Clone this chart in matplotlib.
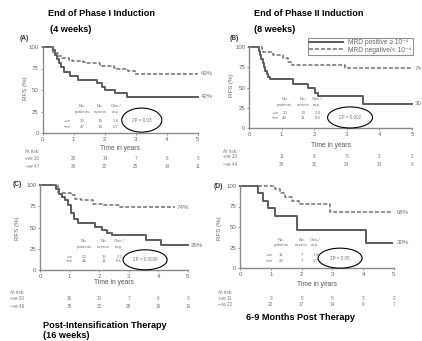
import matplotlib
matplotlib.use("Agg")
import matplotlib.pyplot as plt
from matplotlib.lines import Line2D
from matplotlib.patches import Ellipse
from matplotlib.transforms import blended_transform_factory

plt.rcParams['font.family'] = ['Liberation Sans', 'DejaVu Sans']

W, H = 422, 341

# Kaplan-Meier steps (years, RFS %)
a_pos_t = [0, 0.34, 0.40, 0.46, 0.52, 0.59, 0.67, 0.88, 1.15, 1.74, 1.90, 2.00, 2.33, 2.70, 5.0]
a_pos_s = [100, 96, 91, 86, 81, 77, 71, 66, 62, 58, 54, 50, 46, 42, 42]
a_neg_t = [0, 0.29, 0.34, 0.50, 0.61, 0.85, 0.93, 1.30, 1.36, 1.85, 1.90, 2.28, 2.33, 2.70, 2.76, 2.97, 5.0]
a_neg_s = [100, 97, 93, 90, 87, 85, 84, 82, 81, 79, 78, 76, 75, 73, 72, 69, 69]

b_pos_t = [0, 0.31, 0.34, 0.38, 0.42, 0.46, 0.49, 0.54, 0.59, 0.64, 1.36, 1.82, 2.02, 2.13, 3.50, 5.0]
b_pos_s = [100, 95, 90, 85, 80, 75, 70, 67, 63, 60, 54, 49, 43, 39, 30, 30]
b_neg_t = [0, 0.39, 0.44, 0.75, 1.05, 1.20, 1.31, 2.94, 5.0]
b_neg_s = [100, 97, 94, 90, 86, 82, 78, 74, 74]

c_pos_t = [0, 0.55, 0.65, 0.75, 0.85, 0.95, 1.05, 1.15, 1.28, 1.85, 2.10, 2.25, 2.42, 3.58, 4.08, 5.0]
c_pos_s = [100, 95, 90, 86, 82, 76, 67, 60, 55, 51, 47, 44, 41, 35, 29, 29]
c_neg_t = [0, 0.62, 1.05, 1.18, 1.40, 1.80, 2.08, 2.70, 4.55]
c_neg_s = [100, 91, 88, 84, 82, 78, 76, 74, 74]

d_pos_t = [0, 0.60, 0.76, 0.92, 1.14, 1.86, 4.10, 4.95]
d_pos_s = [100, 91, 82, 73, 64, 46, 31, 31]
d_neg_t = [0, 1.13, 1.30, 1.46, 1.68, 1.90, 2.93, 4.95]
d_neg_s = [100, 96, 91, 86, 82, 78, 68, 68]

# numbers at risk at 0..5 years
years = [0, 1, 2, 3, 4, 5]
a_risk = [[30, 20, 14, 7, 6, 5], [47, 36, 32, 25, 14, 11]]
b_risk = [[20, 11, 8, 5, 2, 2], [44, 36, 31, 24, 14, 9]]
c_risk = [[20, 16, 10, 7, 6, 3], [46, 38, 32, 28, 19, 19]]
d_risk = [[11, 9, 5, 5, 3, 0], [22, 22, 17, 14, 9, 7]]

# patients, events, obs/exp  (+ve row, -ve row)
a_table = [["30", "16", "1.6"], ["47", "14", "0.7"]]
b_table = [["20", "13", "2.3"], ["44", "11", "0.5"]]
c_table = [["20", "15", "2.2"], ["46", "11", "0.6"]]
d_table = [["11", "7", "1.9"], ["22", "7", "0.7"]]

p_values = ["2P = 0.03", "2P = 0.002", "2P = 0.0006", "2P = 0.05"]
end_labels = [("69%", "42%"), ("74", "30"), ("74%", "29%"), ("68%", "30%")]
letters = ["(A)", "(B)", "(C)", "(D)"]

panels = [
    dict(box=(42.7, 47, 198, 133), pos=(a_pos_t, a_pos_s), neg=(a_neg_t, a_neg_s), risk=a_risk, table=a_table,
         cols=(0.78, 1.28, 1.84, 2.36), rows=(31, 24, 14, 7), ell=(3.19, 15, 1.29, 28),
         xlab_y=148, risk_y=(151, 159, 167), risk_x=25, ylab=(25, 88), letter=(20, 39),
         end_x=(5.08, 5.08)),
    dict(box=(249, 47, 412, 128), pos=(b_pos_t, b_pos_s), neg=(b_neg_t, b_neg_s), risk=b_risk, table=b_table,
         cols=(0.8, 1.1, 1.67, 2.1), rows=(36, 28, 19, 12), ell=(3.1, 13, 1.38, 26),
         xlab_y=145, risk_y=(151, 157, 164), risk_x=223, ylab=(231, 85), letter=(230, 38),
         end_x=(5.08, 5.08)),
    dict(box=(40, 185, 188, 270), pos=(c_pos_t, c_pos_s), neg=(c_neg_t, c_neg_s), risk=c_risk, table=c_table,
         cols=(1.0, 1.5, 2.15, 2.68), rows=(34, 27, 15.5, 10), ell=(3.55, 12, 1.49, 23.5),
         xlab_y=283, risk_y=(292, 298, 306), risk_x=10, ylab=(17, 228), letter=(13, 185),
         end_x=(4.6, 5.1)),
    dict(box=(240, 186, 394, 268), pos=(d_pos_t, d_pos_s), neg=(d_neg_t, d_neg_s), risk=d_risk, table=d_table,
         cols=(0.95, 1.33, 2.0, 2.45), rows=(34, 27.5, 15.5, 9), ell=(3.25, 12, 1.43, 24.4),
         xlab_y=285, risk_y=(293, 298, 305), risk_x=218, ylab=(219, 228), letter=(214, 186),
         end_x=(5.1, 5.1)),
]

curve_pos = '#5c5c5c'
curve_neg = '#707070'
grey_txt = '#777777'

fig = plt.figure(figsize=(W / 100, H / 100), dpi=100)

for i, p in enumerate(panels):
    l, t, r, b = p['box']
    ax = fig.add_axes([l / W, 1 - b / H, (r - l) / W, (b - t) / H])
    ax.plot(p['pos'][0], p['pos'][1], drawstyle='steps-post', color=curve_pos, lw=1.4, clip_on=False)
    ax.plot(p['neg'][0], p['neg'][1], drawstyle='steps-post', color=curve_neg, lw=1.1,
            ls=(0, (2.6, 1.3)), clip_on=False)
    ax.set_xlim(0, 5)
    ax.set_ylim(0, 100)
    ax.set_xticks(years)
    ax.set_yticks([0, 25, 50, 75, 100])
    for s in ['top', 'right']:
        ax.spines[s].set_visible(False)
    for s in ['left', 'bottom']:
        ax.spines[s].set_color('#8a8a8a')
        ax.spines[s].set_linewidth(1.0)
    ax.tick_params(length=1.5, width=0.6, color='#8a8a8a', labelsize=4.4, labelcolor='#666666', pad=1.2)

    # end of curve labels
    ax.text(p['end_x'][0], p['neg'][1][-1], end_labels[i][0], fontsize=4.4, color=grey_txt, va='center')
    ax.text(p['end_x'][1], p['pos'][1][-1], end_labels[i][1], fontsize=4.4, color=grey_txt, va='center')

    # small table inside the plot
    cx = p['cols']
    ry = p['rows']
    ts = dict(fontsize=3.2, color=grey_txt, ha='center', va='center')
    ax.text(cx[1], ry[0], "No.", **ts)
    ax.text(cx[1], ry[1], "patients", **ts)
    ax.text(cx[2], ry[0], "No.", **ts)
    ax.text(cx[2], ry[1], "events", **ts)
    ax.text(cx[3], ry[0], "Obs./", **ts)
    ax.text(cx[3], ry[1], "exp.", **ts)
    for j, lab in enumerate(["+ve", "\u2212ve"]):
        ax.text(cx[0], ry[2 + j], lab, **ts)
        for k in range(3):
            ax.text(cx[k + 1], ry[2 + j], p['table'][j][k], **ts)

    ex, ey, ew, eh = p['ell']
    ax.add_patch(Ellipse((ex, ey), ew, eh, facecolor='white', edgecolor='black', lw=0.8,
                         clip_on=False, zorder=3))
    ax.text(ex, ey, p_values[i], fontsize=3.3, color=grey_txt, ha='center', va='center', zorder=4)

    # axis labels
    tr = blended_transform_factory(ax.transData, fig.transFigure)
    ax.text(2.5, 1 - p['xlab_y'] / H, "Time in years", transform=tr, fontsize=4.8,
            color='#555555', ha='center', va='center')
    fig.text(p['ylab'][0] / W, 1 - p['ylab'][1] / H, "RFS (%)", rotation=90, fontsize=4.4,
             color='#666666', ha='center', va='center')
    fig.text(p['letter'][0] / W, 1 - p['letter'][1] / H, letters[i], fontsize=4.8,
             fontweight='bold', color='#333333', ha='left', va='center')

    # numbers at risk
    fig.text(p['risk_x'] / W, 1 - p['risk_y'][0] / H, "At risk:", fontsize=3.3, color=grey_txt, va='center')
    for j, lab in enumerate(["+ve", "\u2212ve"]):
        yy = 1 - p['risk_y'][j + 1] / H
        fig.text(p['risk_x'] / W, yy, f"{lab} {p['risk'][j][0]}", fontsize=3.3, color=grey_txt, va='center')
        for k in range(1, 6):
            ax.text(years[k], yy, str(p['risk'][j][k]), transform=tr, fontsize=3.3,
                    color=grey_txt, ha='center', va='center')

    if i == 1:
        handles = [Line2D([], [], color=curve_pos, lw=1.4),
                   Line2D([], [], color=curve_neg, lw=1.1, ls=(0, (2.6, 1.3)))]
        leg = ax.legend(handles, ["MRD positive \u2265 10\u207b\u2074", "MRD negative/< 10\u207b\u2074"],
                        loc='upper right', bbox_to_anchor=(1.005, 1.115), fontsize=4.8, frameon=True,
                        fancybox=False, handlelength=5.0, borderpad=0.25, labelspacing=0.05,
                        handletextpad=0.8, borderaxespad=0)
        leg.get_frame().set_edgecolor('#777777')
        leg.get_frame().set_linewidth(0.8)
        for txt in leg.get_texts():
            txt.set_color('#666666')

# panel titles
title = dict(fontsize=6.6, fontweight='bold', color='black', ha='left', va='center')
fig.text(48 / W, 1 - 13 / H, "End of Phase I Induction", **title)
fig.text(50 / W, 1 - 30 / H, "(4 weeks)", **title)
fig.text(254 / W, 1 - 13 / H, "End of Phase II Induction", **title)
fig.text(254 / W, 1 - 30 / H, "(8 weeks)", **title)
fig.text(43 / W, 1 - 325 / H, "Post-Intensification Therapy", **title)
fig.text(43 / W, 1 - 336 / H, "(16 weeks)", **title)
fig.text(246 / W, 1 - 317 / H, "6-9 Months Post Therapy", **title)

fig.savefig("out.png", dpi=100)
